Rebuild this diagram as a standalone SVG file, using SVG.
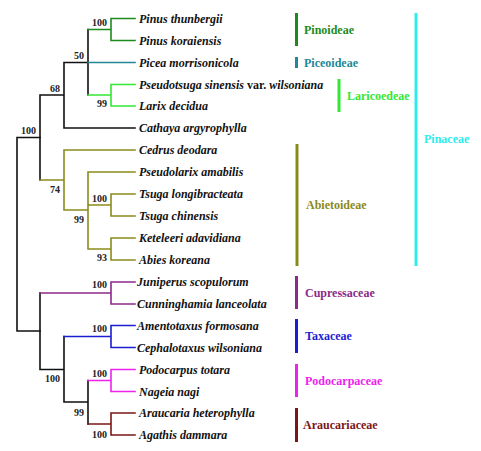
<svg xmlns="http://www.w3.org/2000/svg" width="481" height="451" viewBox="0 0 481 451">
<style>
.e{fill:none;stroke-width:1.6;stroke-linecap:square}
.k{stroke:#111}
.pg{stroke:#1e8a1e}
.tl{stroke:#208898}
.lg{stroke:#33e833}
.ol{stroke:#8a8a1c}
.pu{stroke:#8a2a8a}
.bl{stroke:#1c1cd0}
.mg{stroke:#ee22ee}
.dr{stroke:#7c1616}
.t{font-family:"Liberation Serif","Times New Roman",serif;font-weight:bold;font-style:italic;font-size:12px;fill:#111}
.t .n{font-style:normal}
.b{font-family:"Liberation Serif","Times New Roman",serif;font-weight:bold;font-size:10px;fill:#222;text-anchor:end}
.c{font-family:"Liberation Serif","Times New Roman",serif;font-weight:bold;font-size:12px}
.bar{stroke-width:3;fill:none}
</style>
<rect width="481" height="451" fill="#fff"/>
<g id="connectors">
<path class="e k" d="M17,137.5V331M17,137.5H40M17,331H40"/>
<path class="e k" d="M40,95V180M40,95H64M64,62.5V128M64,62.5H88M64,128H135M88,29.5V95"/>
<path class="e pg" d="M88,29.5H111M111,18.5V40.5M111,18.5H135M111,40.5H135"/>
<path class="e tl" d="M88,62.5H135"/>
<path class="e lg" d="M88,95H111M111,84.5V106M111,84.5H135M111,106H135"/>
<path class="e ol" d="M40,180H64M64,150V210M64,150H135M64,210H88M88,172V249M88,172H135M88,205H111M111,194V216M111,194H135M111,216H135M88,249H111M111,238V260M111,238H135M111,260H135"/>
<path class="e k" d="M40,293V369.5M40,369.5H64M64,336.5V402M64,402H88M88,380.5V424"/>
<path class="e pu" d="M40,293H111M111,282V304M111,282H135M111,304H135"/>
<path class="e bl" d="M64,336.5H111M111,325.5V347.5M111,325.5H135M111,347.5H135"/>
<path class="e mg" d="M88,380.5H111M111,369.5V391.5M111,369.5H135M111,391.5H135"/>
<path class="e dr" d="M88,424H111M111,413V435M111,413H135M111,435H135"/>
</g>
<g id="support">
<text class="b" x="107" y="26">100</text>
<text class="b" x="84" y="59">50</text>
<text class="b" x="107" y="107">99</text>
<text class="b" x="60" y="92">68</text>
<text class="b" x="36" y="134">100</text>
<text class="b" x="60" y="193">74</text>
<text class="b" x="107" y="202">100</text>
<text class="b" x="84" y="223">99</text>
<text class="b" x="107" y="261">93</text>
<text class="b" x="107" y="288">100</text>
<text class="b" x="107" y="332">100</text>
<text class="b" x="60" y="382">100</text>
<text class="b" x="107" y="377">100</text>
<text class="b" x="84" y="416">99</text>
<text class="b" x="107" y="438">100</text>
</g>
<g id="leaf-pinus-thunbergii"><text class="t" x="139" y="22.5">Pinus thunbergii</text></g>
<g id="leaf-pinus-koraiensis"><text class="t" x="139" y="44.5">Pinus koraiensis</text></g>
<g id="leaf-picea-morrisonicola"><text class="t" x="139" y="66.5">Picea morrisonicola</text></g>
<g id="leaf-pseudotsuga"><text class="t" x="139" y="88.5">Pseudotsuga sinensis <tspan class="n">var.</tspan> wilsoniana</text></g>
<g id="leaf-larix-decidua"><text class="t" x="139" y="110">Larix decidua</text></g>
<g id="leaf-cathaya"><text class="t" x="139" y="132">Cathaya argyrophylla</text></g>
<g id="leaf-cedrus"><text class="t" x="139" y="154">Cedrus deodara</text></g>
<g id="leaf-pseudolarix"><text class="t" x="139" y="176">Pseudolarix amabilis</text></g>
<g id="leaf-tsuga-longibracteata"><text class="t" x="139" y="198">Tsuga longibracteata</text></g>
<g id="leaf-tsuga-chinensis"><text class="t" x="139" y="220">Tsuga chinensis</text></g>
<g id="leaf-keteleeri"><text class="t" x="139" y="242">Keteleeri adavidiana</text></g>
<g id="leaf-abies"><text class="t" x="139" y="264">Abies koreana</text></g>
<g id="leaf-juniperus"><text class="t" x="137" y="286">Juniperus scopulorum</text></g>
<g id="leaf-cunninghamia"><text class="t" x="137" y="308">Cunninghamia lanceolata</text></g>
<g id="leaf-amentotaxus"><text class="t" x="137" y="329.5">Amentotaxus formosana</text></g>
<g id="leaf-cephalotaxus"><text class="t" x="137" y="351.5">Cephalotaxus wilsoniana</text></g>
<g id="leaf-podocarpus"><text class="t" x="139" y="373.5">Podocarpus totara</text></g>
<g id="leaf-nageia"><text class="t" x="139" y="395.5">Nageia nagi</text></g>
<g id="leaf-araucaria"><text class="t" x="139" y="417">Araucaria heterophylla</text></g>
<g id="leaf-agathis"><text class="t" x="139" y="439">Agathis dammara</text></g>
<g id="clade-pinoideae"><path class="bar" stroke="#1e8a1e" d="M296.5,13V46"/><text class="c" fill="#1e8a1e" x="304" y="34">Pinoideae</text></g>
<g id="clade-piceoideae"><path class="bar" stroke="#208898" d="M296.5,57V68"/><text class="c" fill="#208898" x="304" y="66.5">Piceoideae</text></g>
<g id="clade-laricoedeae"><path class="bar" stroke="#33e833" d="M339,79V112"/><text class="c" fill="#33e833" x="347" y="100">Laricoedeae</text></g>
<g id="clade-pinaceae"><path class="bar" stroke="#2eecec" d="M416,13V266"/><text class="c" fill="#2eecec" x="424" y="143">Pinaceae</text></g>
<g id="clade-abietoideae"><path class="bar" stroke="#8a8a1c" d="M297,144V266"/><text class="c" fill="#8a8a1c" x="306" y="209">Abietoideae</text></g>
<g id="clade-cupressaceae"><path class="bar" stroke="#8a2a8a" d="M296.5,276V309"/><text class="c" fill="#8a2a8a" x="305" y="296.5">Cupressaceae</text></g>
<g id="clade-taxaceae"><path class="bar" stroke="#1c1cd0" d="M296.5,319V353"/><text class="c" fill="#1c1cd0" x="305" y="340">Taxaceae</text></g>
<g id="clade-podocarpaceae"><path class="bar" stroke="#ee22ee" d="M296.5,364V397"/><text class="c" fill="#ee22ee" x="305" y="385">Podocarpaceae</text></g>
<g id="clade-araucariaceae"><path class="bar" stroke="#7c1616" d="M296.5,408V442"/><text class="c" fill="#7c1616" x="303" y="429">Araucariaceae</text></g>
</svg>
